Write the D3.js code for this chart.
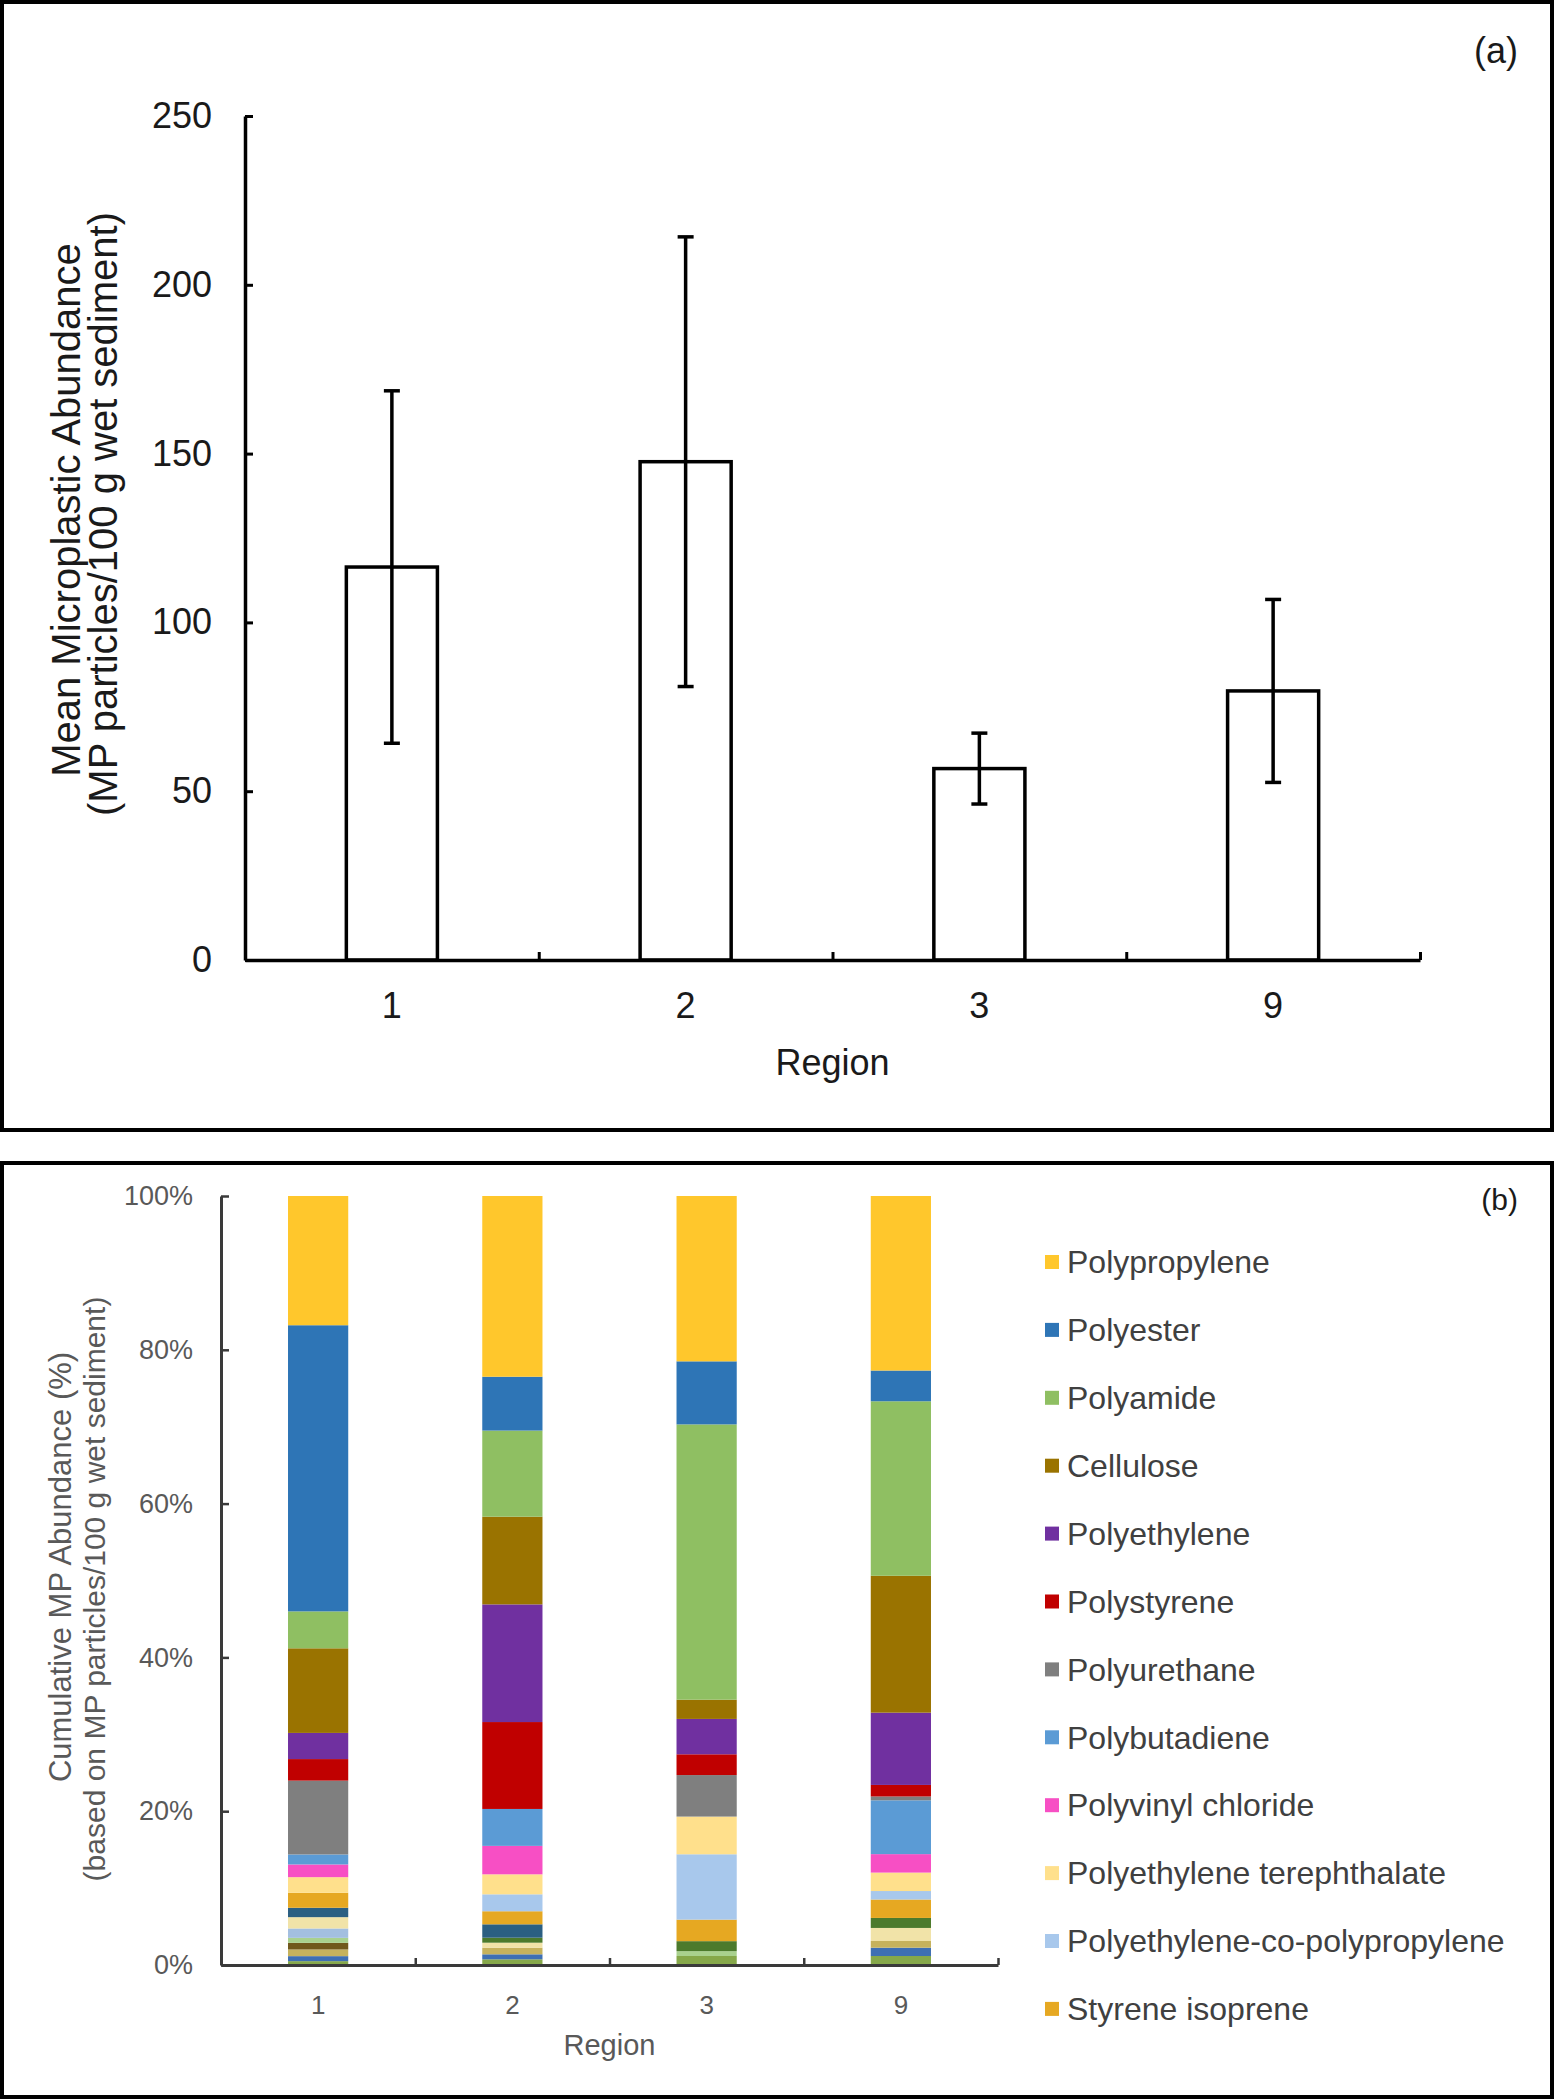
<!DOCTYPE html>
<html>
<head>
<meta charset="utf-8">
<script src="https://cdn.jsdelivr.net/npm/d3@7"></script>
<style>
  html, body { margin: 0; padding: 0; background: #fff; }
  svg { display: block; font-family: "Liberation Sans", Arial, sans-serif; }
</style>
</head>
<body>
<svg id="chart" width="1555" height="2100"></svg>
<script>
// ---------------- DATA ----------------
const regions = ["1", "2", "3", "9"];

// Panel (a): mean abundance and error (±)
const meanAbundance = [116.4, 147.6, 56.7, 79.7];
const errAbundance = [52.2, 66.6, 10.5, 27.1];
const yTicksA = [0, 50, 100, 150, 200, 250];

// Panel (b): polymer series, listed from top of the stack to the bottom
const legendPolymers = [
  "Polypropylene", "Polyester", "Polyamide", "Cellulose", "Polyethylene",
  "Polystyrene", "Polyurethane", "Polybutadiene", "Polyvinyl chloride",
  "Polyethylene terephthalate", "Polyethylene-co-polypropylene", "Styrene isoprene"
];
// further minor polymer types whose legend entries are cut off in the figure
const minorPolymers = ["minor9", "minor8", "minor7", "minor6", "minor5", "minor4", "minor3", "minor2", "minor1"];

const legendColors = [
  "#FFC72C", "#2E75B6", "#8FBF62", "#9A7300", "#7030A0",
  "#C00000", "#7F7F7F", "#5B9BD5", "#F74FC4",
  "#FFE08C", "#A8C8EC", "#E6A822"
];
const minorColors = ["#2B5F82", "#4C7A2C", "#F1E3A8", "#A3BFE0", "#A9D18E", "#70581C", "#C6B25C", "#3E6FB3", "#86A84A"];

// percent shares (same order: legend polymers, then minor ones)
const shareRegion1 = [16.8, 37.2, 4.8, 11.0, 3.4, 2.8, 9.6, 1.3, 1.65, 2.03, 0, 1.95, 1.22, 0, 1.47, 1.22, 0.65, 0.86, 0.87, 0.65, 0.5];
const shareRegion2 = [23.5, 7.0, 11.2, 11.4, 15.3, 11.3, 0, 4.8, 3.7, 2.6, 2.2, 1.7, 1.74, 0.65, 0.65, 0, 0, 0, 0.86, 0.65, 0.74];
const shareRegion3 = [21.5, 8.2, 35.8, 2.5, 4.6, 2.7, 5.4, 0, 0, 4.9, 8.5, 2.8, 0, 1.3, 0, 0, 0.63, 0, 0, 0, 1.17];
const shareRegion9 = [22.7, 4.0, 22.7, 17.8, 9.4, 1.5, 0.5, 7.0, 2.4, 2.4, 1.1, 2.4, 0, 1.3, 1.7, 0, 0, 0, 0.87, 1.08, 1.17];
const yTicksB = [0, 0.2, 0.4, 0.6, 0.8, 1.0];

// ---------------- DRAW ----------------
const svg = d3.select("#chart");
const font = '"Liberation Sans", Arial, sans-serif';

// panel borders
svg.append("rect").attr("x", 2).attr("y", 2).attr("width", 1550).attr("height", 1128)
  .attr("fill", "none").attr("stroke", "#000").attr("stroke-width", 4);
svg.append("rect").attr("x", 2).attr("y", 1163).attr("width", 1550).attr("height", 934)
  .attr("fill", "none").attr("stroke", "#000").attr("stroke-width", 4);

// ===== Panel (a) =====
const A = { left: 245, right: 1420, top: 116, bottom: 960 };
const xA = d3.scaleBand().domain(regions).range([A.left, A.right]).paddingInner(0.69).paddingOuter(0.345);
const yA = d3.scaleLinear().domain([0, 250]).range([A.bottom, A.top]);
const gA = svg.append("g");

// bars
gA.selectAll("rect.bar").data(regions).join("rect")
  .attr("class", "bar")
  .attr("x", d => xA(d))
  .attr("y", (d, i) => yA(meanAbundance[i]))
  .attr("width", xA.bandwidth())
  .attr("height", (d, i) => yA(0) - yA(meanAbundance[i]))
  .attr("fill", "#fff").attr("stroke", "#000").attr("stroke-width", 3.5);

// error bars
const capW = 16;
const eb = gA.selectAll("g.err").data(regions).join("g").attr("class", "err");
eb.append("line")
  .attr("x1", d => xA(d) + xA.bandwidth() / 2).attr("x2", d => xA(d) + xA.bandwidth() / 2)
  .attr("y1", (d, i) => yA(meanAbundance[i] + errAbundance[i]))
  .attr("y2", (d, i) => yA(meanAbundance[i] - errAbundance[i]))
  .attr("stroke", "#000").attr("stroke-width", 3.5);
eb.append("line")
  .attr("x1", d => xA(d) + xA.bandwidth() / 2 - capW / 2).attr("x2", d => xA(d) + xA.bandwidth() / 2 + capW / 2)
  .attr("y1", (d, i) => yA(meanAbundance[i] + errAbundance[i]))
  .attr("y2", (d, i) => yA(meanAbundance[i] + errAbundance[i]))
  .attr("stroke", "#000").attr("stroke-width", 3.5);
eb.append("line")
  .attr("x1", d => xA(d) + xA.bandwidth() / 2 - capW / 2).attr("x2", d => xA(d) + xA.bandwidth() / 2 + capW / 2)
  .attr("y1", (d, i) => yA(meanAbundance[i] - errAbundance[i]))
  .attr("y2", (d, i) => yA(meanAbundance[i] - errAbundance[i]))
  .attr("stroke", "#000").attr("stroke-width", 3.5);

// y axis
const yAxisA = gA.append("g").attr("transform", `translate(${A.left},0)`)
  .call(d3.axisLeft(yA).tickValues(yTicksA).tickSizeInner(-8).tickSizeOuter(0).tickPadding(33));
yAxisA.select(".domain").attr("stroke", "#000").attr("stroke-width", 3.5);
yAxisA.selectAll(".tick line").attr("stroke", "#000").attr("stroke-width", 3);
yAxisA.selectAll(".tick text").attr("font-family", font).attr("font-size", 36).attr("fill", "#1a1a1a");

// x axis line with boundary ticks
const xBoundA = d3.scaleLinear().domain([0, regions.length]).range([A.left, A.right]);
const xAxisA = gA.append("g").attr("transform", `translate(0,${A.bottom})`)
  .call(d3.axisBottom(xBoundA).tickValues([1, 2, 3, 4]).tickSizeInner(-8).tickSizeOuter(0).tickFormat(""));
xAxisA.select(".domain").attr("stroke", "#000").attr("stroke-width", 3.5);
xAxisA.selectAll(".tick line").attr("stroke", "#000").attr("stroke-width", 3);
// category labels
const xLabA = gA.append("g").attr("transform", `translate(0,${A.bottom})`)
  .call(d3.axisBottom(xA).tickSize(0).tickPadding(32));
xLabA.select(".domain").remove();
xLabA.selectAll(".tick text").attr("font-family", font).attr("font-size", 36).attr("fill", "#1a1a1a");

gA.append("text").attr("x", (A.left + A.right) / 2).attr("y", 1075)
  .attr("text-anchor", "middle").attr("font-family", font).attr("font-size", 36).attr("fill", "#1a1a1a")
  .text("Region");

gA.append("text").attr("transform", "translate(80,510) rotate(-90)")
  .attr("text-anchor", "middle").attr("font-family", font).attr("font-size", 40).attr("fill", "#1a1a1a")
  .text("Mean Microplastic Abundance");
gA.append("text").attr("transform", "translate(117,514) rotate(-90)")
  .attr("text-anchor", "middle").attr("font-family", font).attr("font-size", 40).attr("fill", "#1a1a1a")
  .text("(MP particles/100 g wet sediment)");

gA.append("text").attr("x", 1518).attr("y", 63).attr("text-anchor", "end")
  .attr("font-family", font).attr("font-size", 36).attr("fill", "#1a1a1a").text("(a)");

// ===== Panel (b) =====
const B = { left: 221, right: 998, top: 1196, bottom: 1965 };
const allKeys = legendPolymers.concat(minorPolymers);
const allColors = legendColors.concat(minorColors);
const shareRows = [shareRegion1, shareRegion2, shareRegion3, shareRegion9];
const tableB = regions.map((r, i) => {
  const row = { region: r };
  allKeys.forEach((k, j) => { row[k] = shareRows[i][j]; });
  return row;
});
const stackKeys = allKeys.slice().reverse(); // bottom to top
const stacked = d3.stack().keys(stackKeys).offset(d3.stackOffsetExpand)(tableB);
const colorB = d3.scaleOrdinal().domain(allKeys).range(allColors);

const xB = d3.scaleBand().domain(regions).range([B.left, B.right]).paddingInner(0.69).paddingOuter(0.345);
const yB = d3.scaleLinear().domain([0, 1]).range([B.bottom, B.top]);
const gB = svg.append("g");

gB.selectAll("g.series").data(stacked).join("g").attr("class", "series")
  .attr("fill", d => colorB(d.key))
  .selectAll("rect").data(d => d).join("rect")
  .attr("x", d => xB(d.data.region))
  .attr("y", d => yB(d[1]))
  .attr("width", xB.bandwidth())
  .attr("height", d => Math.max(0, yB(d[0]) - yB(d[1])));

const yAxisB = gB.append("g").attr("transform", `translate(${B.left},0)`)
  .call(d3.axisLeft(yB).tickValues(yTicksB).tickFormat(d3.format(".0%")).tickSizeInner(-8).tickSizeOuter(0).tickPadding(28));
yAxisB.select(".domain").attr("stroke", "#3a3a3a").attr("stroke-width", 3);
yAxisB.selectAll(".tick line").attr("stroke", "#3a3a3a").attr("stroke-width", 2.5);
yAxisB.selectAll(".tick text").attr("font-family", font).attr("font-size", 27).attr("fill", "#595959");

const xBoundB = d3.scaleLinear().domain([0, regions.length]).range([B.left, B.right]);
const xAxisB = gB.append("g").attr("transform", `translate(0,${B.bottom})`)
  .call(d3.axisBottom(xBoundB).tickValues([1, 2, 3, 4]).tickSizeInner(-7).tickSizeOuter(0).tickFormat(""));
xAxisB.select(".domain").attr("stroke", "#3a3a3a").attr("stroke-width", 3);
xAxisB.selectAll(".tick line").attr("stroke", "#3a3a3a").attr("stroke-width", 2.5);
const xLabB = gB.append("g").attr("transform", `translate(0,${B.bottom})`)
  .call(d3.axisBottom(xB).tickSize(0).tickPadding(31));
xLabB.select(".domain").remove();
xLabB.selectAll(".tick text").attr("font-family", font).attr("font-size", 26).attr("fill", "#595959");

gB.append("text").attr("x", (B.left + B.right) / 2).attr("y", 2055)
  .attr("text-anchor", "middle").attr("font-family", font).attr("font-size", 29).attr("fill", "#595959")
  .text("Region");

gB.append("text").attr("transform", "translate(71,1567) rotate(-90)")
  .attr("text-anchor", "middle").attr("font-family", font).attr("font-size", 31).attr("fill", "#595959")
  .text("Cumulative MP Abundance (%)");
gB.append("text").attr("transform", "translate(105,1589) rotate(-90)")
  .attr("text-anchor", "middle").attr("font-family", font).attr("font-size", 30).attr("fill", "#595959")
  .text("(based on MP particles/100 g wet sediment)");

gB.append("text").attr("x", 1518).attr("y", 1210).attr("text-anchor", "end")
  .attr("font-family", font).attr("font-size", 30).attr("fill", "#1a1a1a").text("(b)");

// legend
const legY = d3.scalePoint().domain(legendPolymers).range([1262, 1262 + 67.9 * (legendPolymers.length - 1)]);
const leg = gB.selectAll("g.leg").data(legendPolymers).join("g").attr("class", "leg")
  .attr("transform", d => `translate(1045,${legY(d)})`);
leg.append("rect").attr("x", 0).attr("y", -7).attr("width", 14).attr("height", 14)
  .attr("fill", d => colorB(d));
leg.append("text").attr("x", 22).attr("y", 0).attr("dy", "0.35em")
  .attr("font-family", font).attr("font-size", 32).attr("fill", "#404040")
  .text(d => d);
</script>
</body>
</html>
